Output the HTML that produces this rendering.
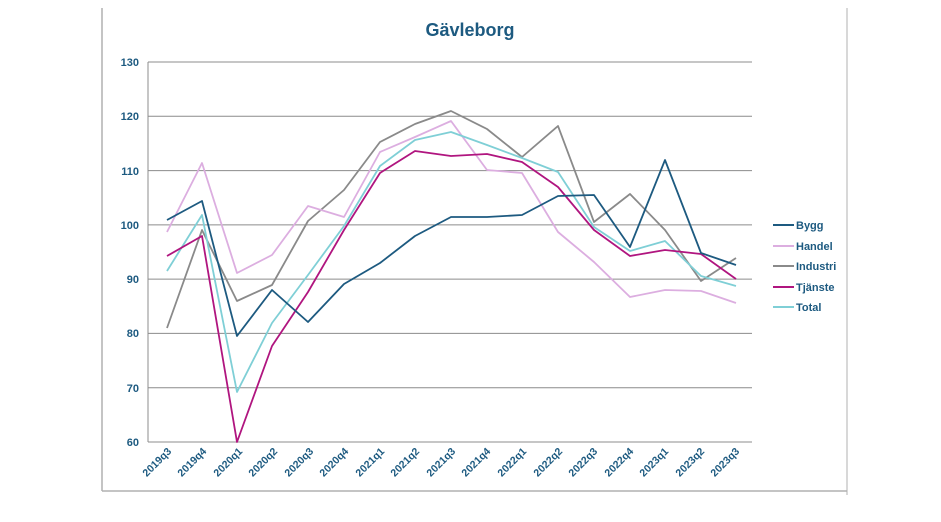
<!DOCTYPE html>
<html><head><meta charset="utf-8"><style>
body{margin:0;background:#fff;}
svg text{font-family:"Liberation Sans",sans-serif;font-weight:bold;fill:#1d5a80;}
</style></head><body>
<svg width="941" height="517" viewBox="0 0 941 517" xmlns="http://www.w3.org/2000/svg">
<rect width="941" height="517" fill="#fff"/>
<line x1="102" y1="8" x2="102" y2="491" stroke="#b0b0b0" stroke-width="1.5"/>
<line x1="102" y1="491" x2="847" y2="491" stroke="#b0b0b0" stroke-width="1.5"/>
<line x1="847" y1="8" x2="847" y2="495" stroke="#b0b0b0" stroke-width="1"/>
<text x="470" y="36" text-anchor="middle" font-size="18">Gävleborg</text>
<g stroke="#8c8c8c" stroke-width="1">
<line x1="148" y1="62" x2="752" y2="62"/>
<line x1="148" y1="116.3" x2="752" y2="116.3"/>
<line x1="148" y1="170.6" x2="752" y2="170.6"/>
<line x1="148" y1="224.9" x2="752" y2="224.9"/>
<line x1="148" y1="279.1" x2="752" y2="279.1"/>
<line x1="148" y1="333.4" x2="752" y2="333.4"/>
<line x1="148" y1="387.7" x2="752" y2="387.7"/>
<line x1="148" y1="442" x2="752" y2="442"/>
<line x1="148" y1="62" x2="148" y2="442"/>
</g>
<g font-size="11" text-anchor="end">
<text x="139" y="66">130</text><text x="139" y="120">120</text><text x="139" y="175">110</text>
<text x="139" y="229">100</text><text x="139" y="283">90</text><text x="139" y="337">80</text>
<text x="139" y="392">70</text><text x="139" y="446">60</text>
</g>
<g font-size="10.5" text-anchor="end">
<text transform="translate(172,452) rotate(-45)">2019q3</text>
<text transform="translate(207,452) rotate(-45)">2019q4</text>
<text transform="translate(243,452) rotate(-45)">2020q1</text>
<text transform="translate(278,452) rotate(-45)">2020q2</text>
<text transform="translate(314,452) rotate(-45)">2020q3</text>
<text transform="translate(349,452) rotate(-45)">2020q4</text>
<text transform="translate(385,452) rotate(-45)">2021q1</text>
<text transform="translate(420,452) rotate(-45)">2021q2</text>
<text transform="translate(456,452) rotate(-45)">2021q3</text>
<text transform="translate(491,452) rotate(-45)">2021q4</text>
<text transform="translate(527,452) rotate(-45)">2022q1</text>
<text transform="translate(563,452) rotate(-45)">2022q2</text>
<text transform="translate(598,452) rotate(-45)">2022q3</text>
<text transform="translate(634,452) rotate(-45)">2022q4</text>
<text transform="translate(669,452) rotate(-45)">2023q1</text>
<text transform="translate(705,452) rotate(-45)">2023q2</text>
<text transform="translate(740,452) rotate(-45)">2023q3</text>
</g>
<g fill="none" stroke-width="1.8" stroke-linejoin="round">
<polyline stroke="#8a8a8a" points="167,328 202,230 237,301 272,285 308,221 344,190 380,142 415,124 451,111 487,129 522,157 558,126 594,222 630,194 665,230 701,281 736,258"/>
<polyline stroke="#dcaee0" points="167,232 202,163 237,273 272,255 308,206 344,217 380,152 415,137 451,121 487,170 522,173 558,232 594,262 630,297 665,290 701,291 736,303"/>
<polyline stroke="#7fcfd6" points="167,271 202,215 237,392 272,323 308,275 344,226 380,166 415,140 451,132 487,145 522,158 558,172 594,227 630,251 665,241 701,276 736,286"/>
<polyline stroke="#b0157f" points="167,256 202,236 237,442 272,346 308,292 344,230 380,173 415,151 451,156 487,154 522,162 558,187 594,230 630,256 665,250 701,254 736,279"/>
<polyline stroke="#1d5a80" points="167,220 202,201 237,336 272,290 308,322 344,284 380,263 415,236 451,217 487,217 522,215 558,196 594,195 630,247 665,160 701,253 736,265"/>
</g>
<g stroke-width="2">
<line x1="773" y1="225" x2="794" y2="225" stroke="#1d5a80"/>
<line x1="773" y1="246" x2="794" y2="246" stroke="#dcaee0"/>
<line x1="773" y1="266" x2="794" y2="266" stroke="#8a8a8a"/>
<line x1="773" y1="287" x2="794" y2="287" stroke="#b0157f"/>
<line x1="773" y1="307" x2="794" y2="307" stroke="#7fcfd6"/>
</g>
<g font-size="11">
<text x="796" y="229">Bygg</text><text x="796" y="250">Handel</text><text x="796" y="270">Industri</text>
<text x="796" y="291">Tjänste</text><text x="796" y="311">Total</text>
</g>
</svg>
</body></html>
